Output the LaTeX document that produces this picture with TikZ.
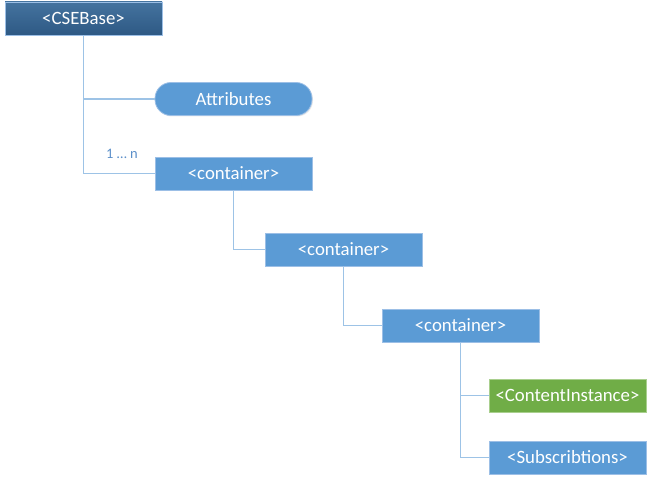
\documentclass[tikz,border=0pt]{standalone}
\usepackage{fontspec}
\setmainfont{Carlito}
\usetikzlibrary{shadows}
\definecolor{boxblue}{HTML}{5B9BD5}
\definecolor{boxedge}{HTML}{9CBFE6}
\definecolor{linkblue}{HTML}{9DC3E6}
\definecolor{leafgreen}{HTML}{70AD47}
\definecolor{leafedge}{HTML}{A9CF8E}
\definecolor{rootTop}{HTML}{44739F}
\definecolor{rootBot}{HTML}{2E5984}
\definecolor{labelblue}{HTML}{5B8FC9}
\tikzset{
  tbox/.style={rectangle, minimum width=157pt, minimum height=33pt, inner sep=0pt,
    text=white, font=\fontsize{18.8}{22}\selectfont, line width=0.8pt,
    drop shadow={opacity=0.18, shadow xshift=1pt, shadow yshift=-1pt}},
  plainbox/.style={tbox, fill=boxblue, draw=boxedge},
  greenbox/.style={tbox, fill=leafgreen, draw=leafedge},
  rootbox/.style={tbox, top color=rootTop, bottom color=rootBot, draw=boxedge},
  pillbox/.style={plainbox, rounded corners=16pt},
  link/.style={draw=linkblue, line width=1.5pt},
  mult/.style={text=labelblue, font=\fontsize{14.5}{17}\selectfont, inner sep=0pt}
}
\begin{document}
\begin{tikzpicture}[x=1pt,y=-1pt]
  \useasboundingbox (0,0) rectangle (652,481);
  % boxes of the resource tree
  \node[rootbox] (cse) at (83.5,18.5) {<CSEBase>};
  \node[pillbox] (attr) at (233.5,99) {Attributes};
  \node[plainbox] (cont1) at (233.5,173.5) {<container>};
  \node[plainbox] (cont2) at (343.5,249.5) {<container>};
  \node[plainbox] (cont3) at (460.5,325.5) {<container>};
  \node[greenbox] (ci) at (567.5,395.5) {<ContentInstance>};
  \node[plainbox] (subs) at (567.5,457.5) {<Subscribtions>};
  % elbow links from parent to children
  \path[link] (cse.south) |- (cont1.west);
  \path[link] (cse.south |- attr.west) -- (attr.west);
  \path[link] (cont1.south) |- (cont2.west);
  \path[link] (cont2.south) |- (cont3.west);
  \path[link] (cont3.south) |- (subs.west);
  \path[link] (cont3.south |- ci.west) -- (ci.west);
  % multiplicity
  \node[mult] (mlabel) at (122,154) {1 … n};
\end{tikzpicture}
\end{document}
